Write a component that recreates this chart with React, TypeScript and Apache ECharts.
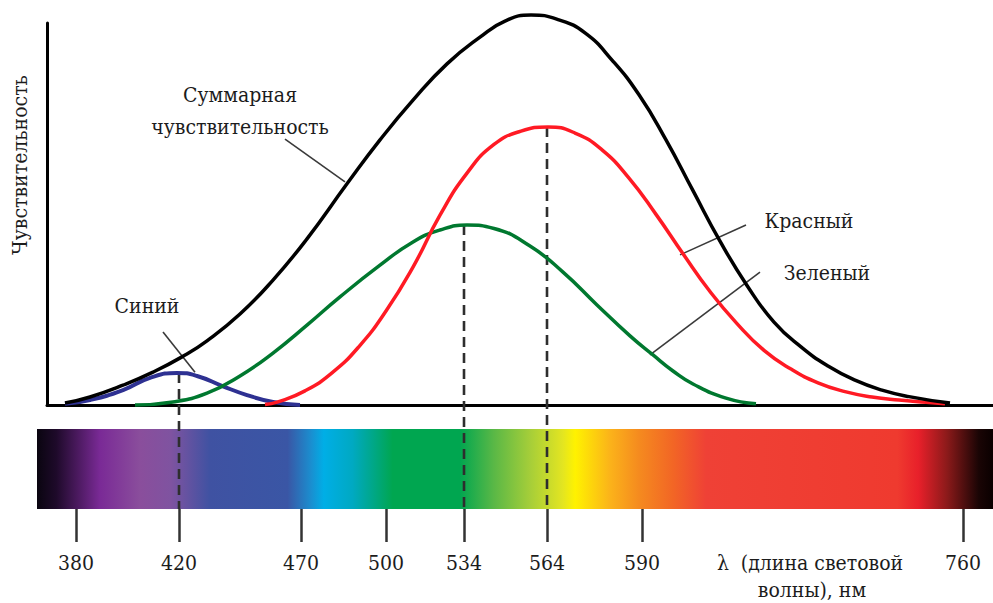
import React, { useEffect, useRef } from "react";
import * as echarts from "echarts";

// Wavelength tick labels (nm) and their position on the (non-linear) spectral scale
const WAVELENGTH_TICKS = [380, 420, 470, 500, 534, 564, 590, 760];
const SCALE_POS = [29, 132, 254, 339, 417, 500, 595, 916];

// Sensitivity curves: [scale position, relative sensitivity]
const TOTAL: [number, number][] = [
  [18, 0.5], [43, 2.1], [76, 5.2], [106, 8.6], [135, 12.6], [160, 16.8], [193, 23.8],
  [226, 32.7], [260, 43.5], [300, 57.9], [333, 69.4], [366, 79.8], [400, 89.3],
  [433, 96.3], [458, 100.5], [484, 102.1], [511, 100.9], [538, 97.4], [565, 90.3],
  [592, 81.2], [619, 69.4], [646, 56.1], [673, 42.9], [700, 31.3], [727, 21.7],
  [754, 15.2], [781, 10.2], [808, 6.5], [835, 3.9], [862, 2.2], [903, 0.5],
];
const RED: [number, number][] = [
  [218, 0.1], [231, 0.8], [258, 3.7], [285, 8.4], [312, 15.3], [339, 24.6], [366, 36.1],
  [393, 49.7], [420, 60.7], [447, 68.2], [474, 71.7], [501, 72.8], [528, 71.2],
  [555, 66.8], [582, 59.4], [609, 49.9], [636, 39.6], [663, 29.7], [690, 21.3],
  [717, 14.3], [744, 9.4], [771, 5.8], [798, 3.5], [825, 2.1], [852, 1.3],
  [879, 0.7], [898, 0.3],
];
const GREEN: [number, number][] = [
  [88, 0], [126, 0.8], [160, 3.1], [193, 7.6], [226, 13.6], [260, 20.9], [293, 28.3],
  [333, 36.6], [366, 42.7], [393, 45.8], [420, 47.1], [447, 46.2], [483, 41.6],
  [516, 34.8], [550, 26.2], [583, 18.1], [606, 13.1], [626, 8.9], [646, 5.5],
  [679, 1.8], [709, 0.3],
];
const BLUE: [number, number][] = [
  [18, 0.3], [43, 1.3], [76, 3.9], [103, 7.1], [130, 8.4], [150, 7.6], [176, 4.9],
  [200, 2.6], [226, 0.8], [253, 0],
];

// Peak wavelengths marked with dashed lines, and the curve each belongs to
const PEAK_WAVELENGTHS = [420, 534, 564];
const PEAK_CURVES = [BLUE, GREEN, RED];

// Leader lines of the annotations: [from, to] in chart units
const LEADER_TOTAL: [number, number][] = [[238, 69.6], [298, 58.4]];
const LEADER_BLUE: [number, number][] = [[116, 19.1], [148, 8.6]];
const LEADER_RED: [number, number][] = [[699, 47.1], [633, 39.3]];
const LEADER_GREEN: [number, number][] = [[713, 34.8], [603, 13.1]];

// Visible spectrum colour stops
const SPECTRUM_STOPS: [number, string][] = [
  [0, "#0a0510"], [0.02, "#1e0a2a"], [0.066, "#7a2a96"], [0.108, "#8a4e9c"],
  [0.14, "#7f53a0"], [0.181, "#3f52a2"], [0.262, "#3a56a5"], [0.287, "#1a8fd0"],
  [0.3, "#00aee6"], [0.33, "#00a9c2"], [0.372, "#00a650"], [0.442, "#00a650"],
  [0.478, "#5ab846"], [0.516, "#a6ce39"], [0.55, "#e3e521"], [0.563, "#fff200"],
  [0.6, "#fbb21a"], [0.63, "#f58a1f"], [0.665, "#f26625"], [0.7, "#ef4136"],
  [0.9, "#ef3a2f"], [0.922, "#e8202a"], [0.952, "#8b1a1a"], [0.985, "#1a0505"],
  [1, "#0a0000"],
];

const SERIF = "DejaVu Serif Condensed, DejaVu Serif, serif";
const FONT_SIZE = 21;
const TEXT_COLOR = "#1c1c1c";
const DASH_BOTTOM = -27.2;

function leader(pts: [number, number][]) {
  return {
    silent: true,
    symbol: ["none", "none"],
    label: { show: false },
    lineStyle: { color: "#3a3a3a", width: 1.6, type: "solid" },
    data: [[{ coord: pts[0] }, { coord: pts[1] }]],
  };
}

function text(t: string, x: number, y: number, extra: any = {}) {
  return {
    type: "text",
    x,
    y,
    ...extra,
    style: {
      text: t,
      fill: TEXT_COLOR,
      fontSize: FONT_SIZE,
      fontFamily: SERIF,
      textAlign: "center",
      textVerticalAlign: "middle",
      verticalAlign: "middle",
    },
  };
}

export default function App() {
  const ref = useRef<HTMLDivElement>(null);

  useEffect(() => {
    if (!ref.current) return;
    const chart = echarts.init(ref.current, undefined, { renderer: "svg" });

    const curveSeries = (name: string, data: [number, number][], color: string, width: number) => ({
      name,
      type: "line",
      xAxisIndex: 0,
      yAxisIndex: 0,
      data,
      smooth: 0.5,
      showSymbol: false,
      symbol: "none",
      clip: false,
      lineStyle: { color, width },
      z: 5,
    });

    const dashed = PEAK_WAVELENGTHS.map((wl, i) => {
      const pos = SCALE_POS[WAVELENGTH_TICKS.indexOf(wl)];
      const peak = Math.max(...PEAK_CURVES[i].map((p) => p[1]));
      return {
        type: "line",
        xAxisIndex: 0,
        yAxisIndex: 0,
        data: [
          [pos, peak],
          [pos, DASH_BOTTOM],
        ],
        showSymbol: false,
        symbol: "none",
        clip: false,
        lineStyle: { color: "#2e2e2e", width: 2.6, type: [10, 6] },
        z: 4,
      };
    });

    const blue: any = curveSeries("Синий", BLUE, "#2e3192", 4);
    blue.markLine = leader(LEADER_BLUE);
    const green: any = curveSeries("Зеленый", GREEN, "#00782f", 3.5);
    green.markLine = leader(LEADER_GREEN);
    const red: any = curveSeries("Красный", RED, "#ff1a24", 3.5);
    red.markLine = leader(LEADER_RED);
    const total: any = curveSeries("Суммарная чувствительность", TOTAL, "#000000", 3.5);
    total.markLine = leader(LEADER_TOTAL);

    chart.setOption({
      animation: false,
      backgroundColor: "#ffffff",
      grid: [
        { left: 47, right: 0, top: 23, height: 382, containLabel: false },
        {
          left: 37,
          right: 0,
          top: 429,
          height: 80,
          show: true,
          borderWidth: 0,
          backgroundColor: new echarts.graphic.LinearGradient(
            0, 0, 1, 0,
            SPECTRUM_STOPS.map(([offset, color]) => ({ offset, color }))
          ),
        },
      ],
      xAxis: [
        {
          type: "value",
          gridIndex: 0,
          min: 0,
          max: 946,
          axisLine: { show: true, onZero: false, lineStyle: { color: "#000", width: 3 } },
          axisTick: { show: false },
          axisLabel: { show: false },
          splitLine: { show: false },
        },
        {
          type: "value",
          gridIndex: 1,
          min: -10,
          max: 946,
          axisLine: { show: false },
          axisTick: {
            show: true,
            inside: false,
            length: 33,
            customValues: SCALE_POS,
            lineStyle: { color: "#333333", width: 2.5 },
          },
          axisLabel: {
            show: true,
            customValues: SCALE_POS,
            margin: 43,
            fontSize: FONT_SIZE,
            fontFamily: SERIF,
            color: TEXT_COLOR,
            formatter: (v: number) => {
              const i = SCALE_POS.indexOf(Math.round(v));
              return i >= 0 ? String(WAVELENGTH_TICKS[i]) : "";
            },
          },
          splitLine: { show: false },
        },
      ],
      yAxis: [
        {
          type: "value",
          gridIndex: 0,
          min: 0,
          max: 100,
          axisLine: { show: true, onZero: false, lineStyle: { color: "#000", width: 3 } },
          axisTick: { show: false },
          axisLabel: { show: false },
          splitLine: { show: false },
        },
        {
          type: "value",
          gridIndex: 1,
          min: 0,
          max: 1,
          show: false,
          splitLine: { show: false },
        },
      ],
      series: [...dashed, blue, green, red, total],
      graphic: [
        text("Чувствительность", 20, 165, { rotation: Math.PI / 2 }),
        text("Суммарная", 240, 95),
        text("чувствительность", 240, 127),
        text("Синий", 147, 306),
        text("Красный", 809, 221),
        text("Зеленый", 827, 273),
        text("λ\u00a0 (длина световой", 810, 563),
        text("волны), нм", 812, 590),
      ],
    });

    return () => chart.dispose();
  }, []);

  return (
    <div
      ref={ref}
      style={{ position: "fixed", left: 0, top: 0, width: 993, height: 603, background: "#fff" }}
    />
  );
}
